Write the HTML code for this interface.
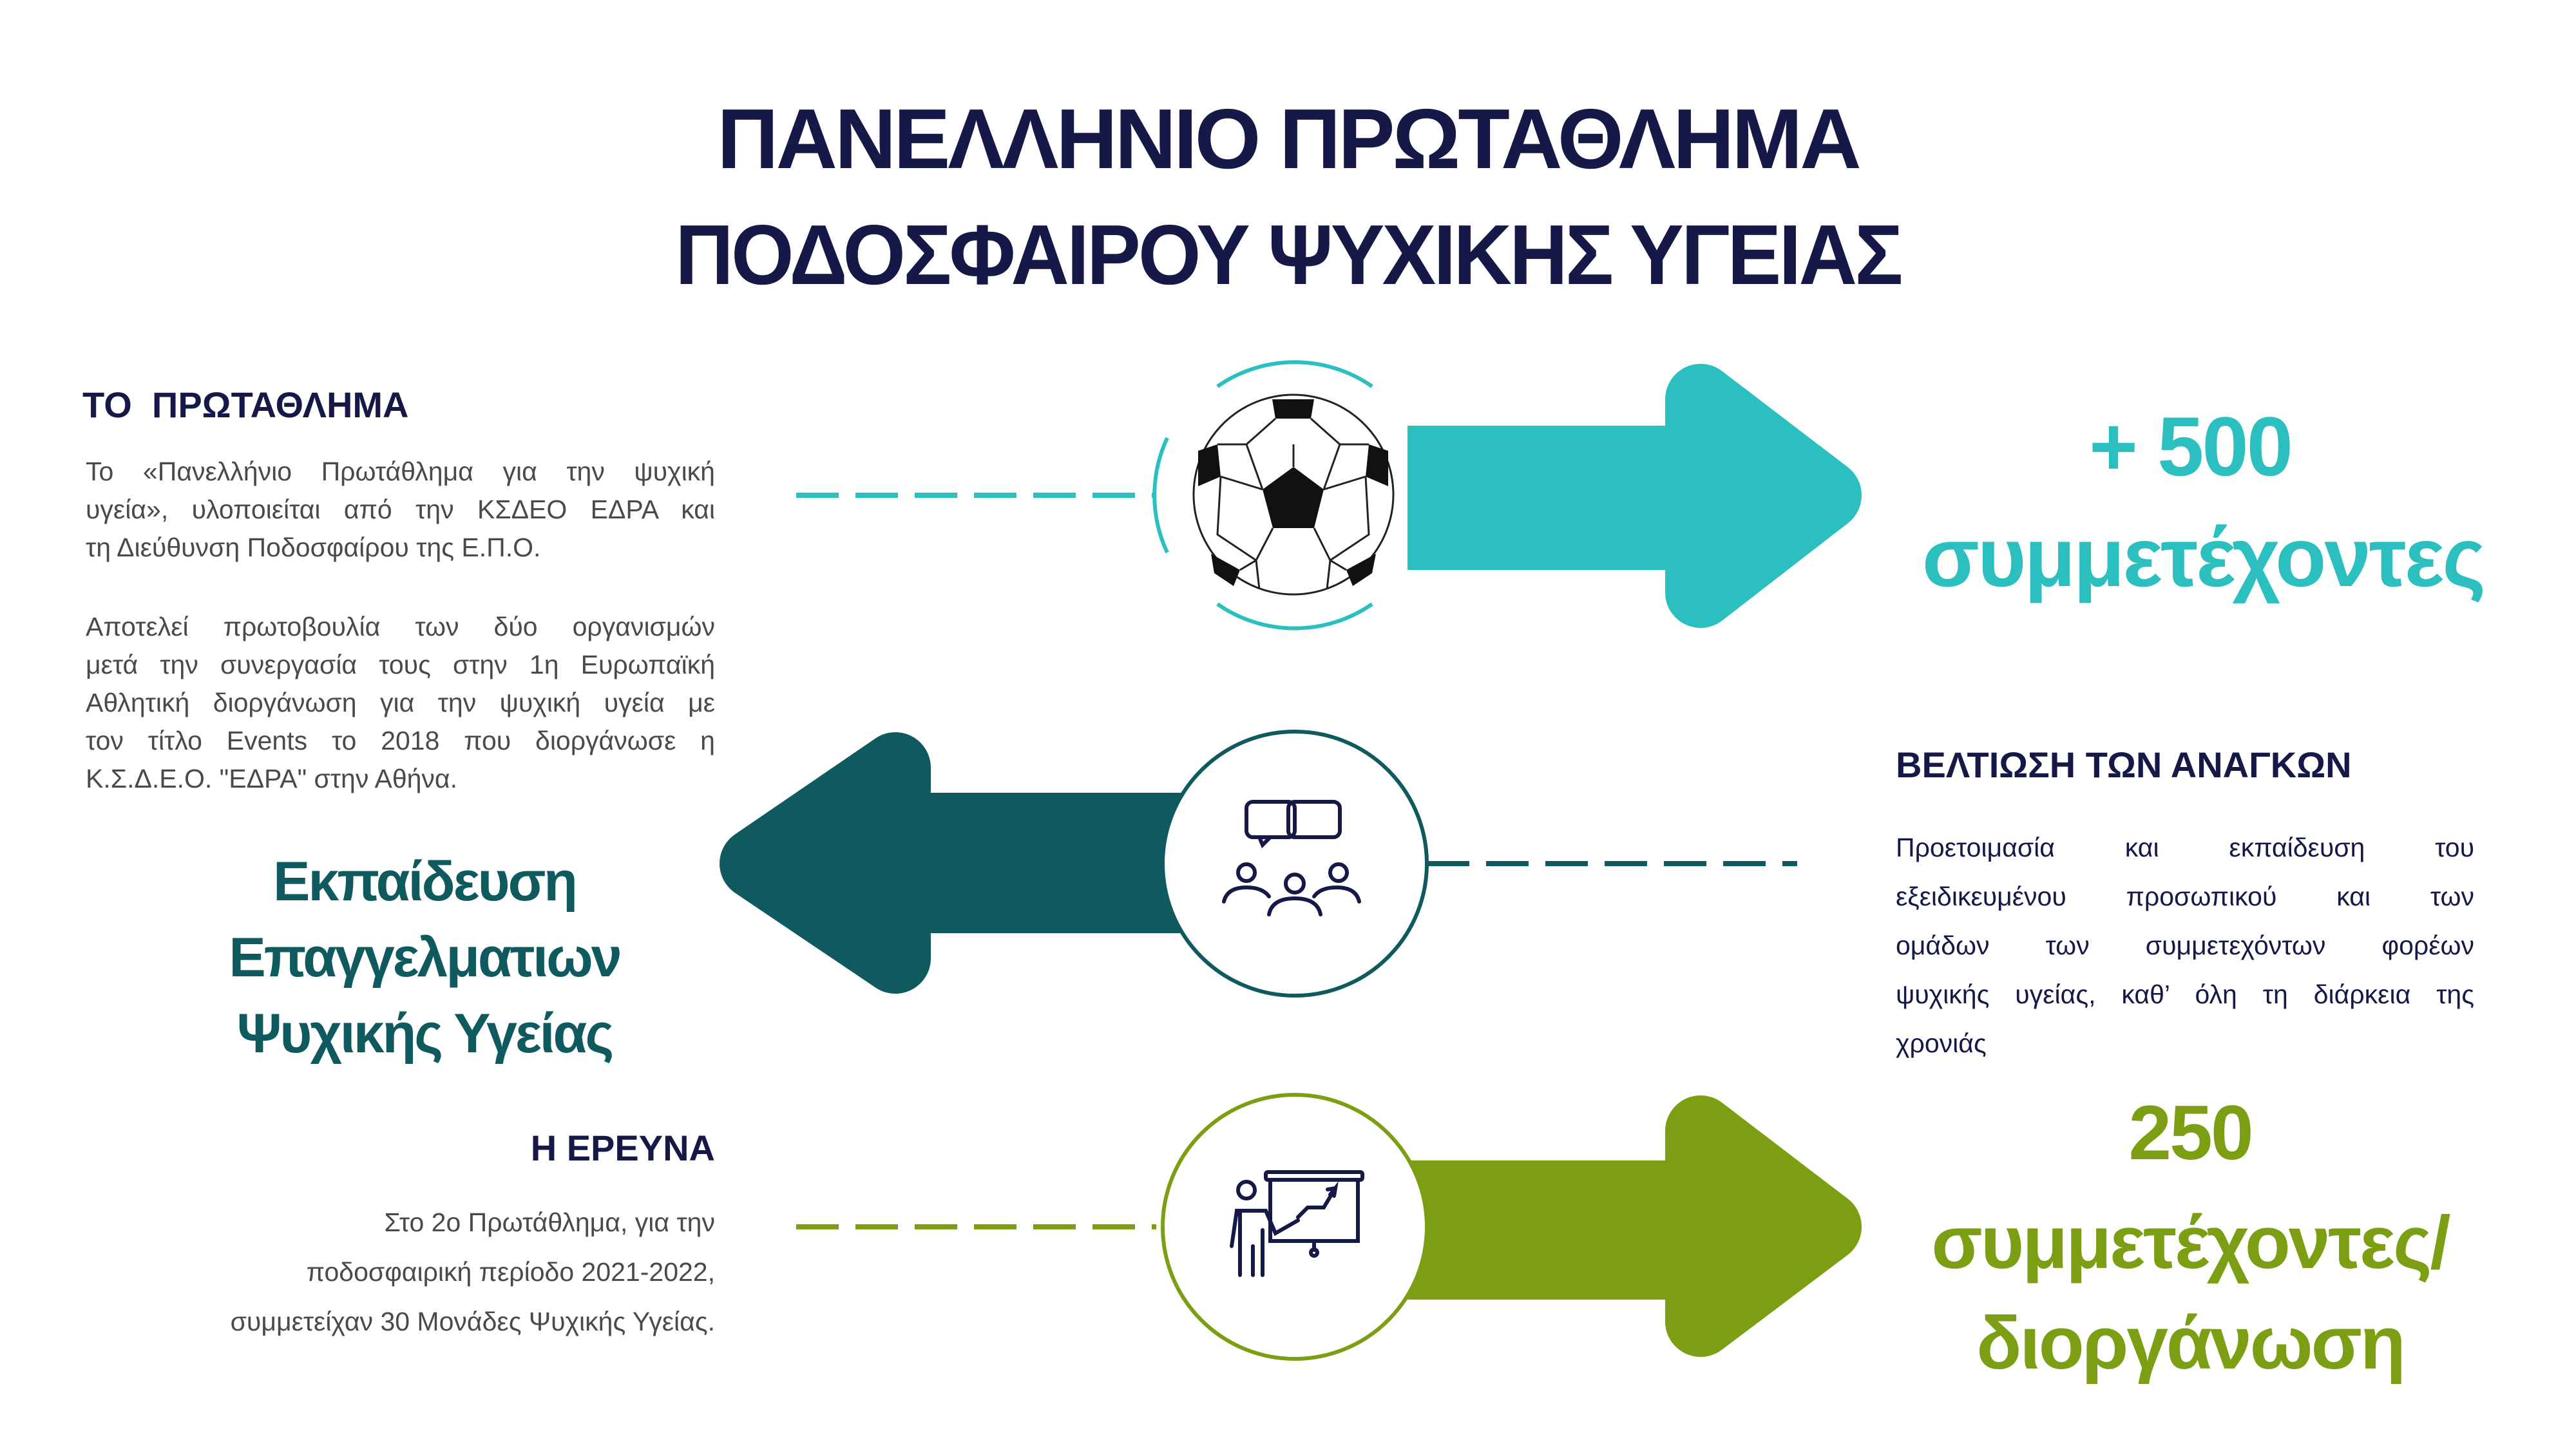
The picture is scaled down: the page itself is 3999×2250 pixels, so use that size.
<!DOCTYPE html>
<html><head><meta charset="utf-8"><style>
html,body{margin:0;padding:0;background:#fff;}
body{width:3999px;height:2250px;position:relative;overflow:hidden;font-family:"Liberation Sans",sans-serif;}
.t{position:absolute;white-space:nowrap;}
.title{left:0;width:3999px;text-align:center;font-weight:bold;color:#161848;font-size:132px;letter-spacing:-4px;}
.p{position:absolute;color:#4a4a4a;font-size:41px;text-align:justify;text-align-last:justify;}
.p div{height:59px;line-height:59px;}
.p div.last{text-align-last:left;}
.h{position:absolute;font-weight:bold;color:#161848;font-size:56px;white-space:nowrap;}
.big{position:absolute;text-align:center;font-weight:bold;white-space:nowrap;letter-spacing:-3px;}
</style></head><body>
<div class="t title" style="top:140px;">ΠΑΝΕΛΛΗΝΙΟ ΠΡΩΤΑΘΛΗΜΑ</div>
<div class="t title" style="top:320px;transform:scaleX(0.95);">ΠΟΔΟΣΦΑΙΡΟΥ ΨΥΧΙΚΗΣ ΥΓΕΙΑΣ</div>

<svg width="3999" height="2250" style="position:absolute;left:0;top:0">
<!-- teal arrow -->
<rect x="2185" y="661" width="480" height="224" fill="#2bbfbf"/>
<polygon points="2640,620 2835,769 2640,920" fill="#2bbfbf" stroke="#2bbfbf" stroke-width="110" stroke-linejoin="round"/>
<!-- dark arrow -->
<rect x="1380" y="1231" width="520" height="218" fill="#0e5a5e"/>
<polygon points="1390,1192 1172,1341 1390,1488" fill="#0e5a5e" stroke="#0e5a5e" stroke-width="110" stroke-linejoin="round"/>
<!-- green arrow -->
<rect x="2150" y="1802" width="510" height="216" fill="#7b9e13"/>
<polygon points="2640,1756 2835,1905 2640,2052" fill="#7b9e13" stroke="#7b9e13" stroke-width="110" stroke-linejoin="round"/>

<!-- dashed lines -->
<line x1="1236" y1="769" x2="1795" y2="769" stroke="#2bbfbf" stroke-width="8" stroke-dasharray="66,26"/>
<line x1="2215" y1="1341" x2="2790" y2="1341" stroke="#0e5a5e" stroke-width="8" stroke-dasharray="66,26"/>
<line x1="1236" y1="1905" x2="1795" y2="1905" stroke="#7b9e13" stroke-width="8" stroke-dasharray="66,26"/>

<!-- soccer ring arcs -->
<g fill="none" stroke="#2bbfbf" stroke-width="6">
<path d="M1890,600 A210,210 0 0 1 2130,600"/>
<path d="M1890,938 A210,210 0 0 0 2130,938"/>
<path d="M1812,680 A210,210 0 0 0 1812,858"/>
</g>
<!-- ball -->
<ellipse cx="2008" cy="768" rx="155" ry="155" fill="#fff" stroke="#222" stroke-width="3"/>
<polygon points="2008,725 2055,760 2040,820 1976,820 1960,760" fill="#111"/>
<polygon points="1975,620 2040,620 2035,650 1980,650" fill="#111"/>
<path d="M1860,700 L1890,690 L1895,740 L1860,755 Z" fill="#111"/>
<path d="M2155,700 L2125,690 L2120,740 L2155,755 Z" fill="#111"/>
<path d="M1880,860 L1925,885 L1915,910 L1885,890 Z" fill="#111"/>
<path d="M2136,860 L2090,885 L2100,910 L2130,890 Z" fill="#111"/>
<g stroke="#222" stroke-width="3" fill="none">
<path d="M2008,725 L2008,690 M1980,650 L1935,690 L1890,690 M2035,650 L2080,690 L2125,690 M1935,690 L1960,760 M2080,690 L2055,760 M1976,820 L1950,870 L1925,885 M2040,820 L2065,870 L2090,885 M1950,870 L1955,915 M2065,870 L2060,915 M1895,740 L1960,760 M2120,740 L2055,760 M1895,740 L1890,830 L1950,870 M2120,740 L2125,830 L2065,870"/>
</g>

<!-- middle circle -->
<circle cx="2010" cy="1341" r="205" fill="#fff" stroke="#0e5a5e" stroke-width="6"/>
<g stroke="#161848" stroke-width="6" fill="none" stroke-linecap="round">
<rect x="1935" y="1245" width="75" height="55" rx="10"/>
<rect x="2000" y="1245" width="80" height="55" rx="10"/>
<path d="M1955,1300 l5,12 l12,-12"/>
<circle cx="1935" cy="1355" r="13"/><circle cx="2010" cy="1372" r="14"/><circle cx="2078" cy="1355" r="13"/>
<path d="M1900,1400 q5,-22 35,-22 q25,0 35,14 M2040,1392 q10,-14 35,-14 q30,0 35,22 M1970,1420 q5,-25 40,-25 q35,0 40,25"/>
</g>

<!-- green circle -->
<circle cx="2010" cy="1905" r="205" fill="#fff" stroke="#7b9e13" stroke-width="6"/>
<g stroke="#161848" stroke-width="6" fill="none" stroke-linecap="round">
<rect x="1965" y="1820" width="150" height="12" rx="3"/>
<rect x="1972" y="1832" width="136" height="95"/>
<path d="M2040,1927 v14"/><circle cx="2040" cy="1945" r="5"/>
<circle cx="1935" cy="1848" r="13"/>
<path d="M1912,1935 l8,-55 l45,0 l15,35 l35,-20 M1925,1880 v100 M1945,1935 v45 M1960,1910 v70 M2015,1890 l15,-15 l25,0 l15,-25 M2065,1855 l8,-10 l-2,12 M2073,1845 l-12,2"/>
</g>
</svg>

<!-- left top -->
<div class="h" style="left:128px;top:596px;">ΤΟ &nbsp;ΠΡΩΤΑΘΛΗΜΑ</div>
<div class="p" style="left:133px;top:703px;width:977px;">
<div>Το «Πανελλήνιο Πρωτάθλημα για την ψυχική</div>
<div>υγεία», υλοποιείται από την ΚΣΔΕΟ ΕΔΡΑ και</div>
<div class="last">τη Διεύθυνση Ποδοσφαίρου της Ε.Π.Ο.</div>
</div>
<div class="p" style="left:133px;top:944px;width:977px;">
<div>Αποτελεί πρωτοβουλία των δύο οργανισμών</div>
<div>μετά την συνεργασία τους στην 1η Ευρωπαϊκή</div>
<div>Αθλητική διοργάνωση για την ψυχική υγεία με</div>
<div>τον τίτλο Events το 2018 που διοργάνωσε η</div>
<div class="last">Κ.Σ.Δ.Ε.Ο. "ΕΔΡΑ" στην Αθήνα.</div>
</div>

<div class="big" style="left:259px;width:800px;top:1310px;font-size:86px;color:#0e5a5e;line-height:118px;">Εκπαίδευση<br>Επαγγελματιων<br>Ψυχικής Υγείας</div>

<div class="h" style="right:2889px;top:1750px;">Η ΕΡΕΥΝΑ</div>
<div class="p" style="left:133px;top:1860px;width:977px;text-align:right;text-align-last:right;">
<div style="height:77px;line-height:77px;">Στο 2ο Πρωτάθλημα, για την</div>
<div style="height:77px;line-height:77px;">ποδοσφαιρική περίοδο 2021-2022,</div>
<div style="height:77px;line-height:77px;">συμμετείχαν 30 Μονάδες Ψυχικής Υγείας.</div>
</div>

<!-- right -->
<div class="big" style="left:3000px;width:800px;top:618px;font-size:130px;color:#2bbfbf;">+ 500</div>
<div class="big" style="left:2920px;width:1000px;top:790px;font-size:130px;color:#2bbfbf;">συμμετέχοντες</div>

<div class="h" style="left:2943px;top:1155px;">ΒΕΛΤΙΩΣΗ ΤΩΝ ΑΝΑΓΚΩΝ</div>
<div class="p" style="left:2943px;top:1278px;width:898px;color:#161848;">
<div style="height:76px;line-height:76px;">Προετοιμασία και εκπαίδευση του</div>
<div style="height:76px;line-height:76px;">εξειδικευμένου προσωπικού και των</div>
<div style="height:76px;line-height:76px;">ομάδων των συμμετεχόντων φορέων</div>
<div style="height:76px;line-height:76px;">ψυχικής υγείας, καθ’ όλη τη διάρκεια της</div>
<div class="last" style="height:76px;line-height:76px;">χρονιάς</div>
</div>

<div class="big" style="left:3000px;width:800px;top:1690px;font-size:120px;color:#7b9e13;">250</div>
<div class="big" style="left:2900px;width:1000px;top:1862px;font-size:116px;color:#7b9e13;">συμμετέχοντες/</div>
<div class="big" style="left:2900px;width:1000px;top:2018px;font-size:116px;color:#7b9e13;">διοργάνωση</div>
</body></html>
